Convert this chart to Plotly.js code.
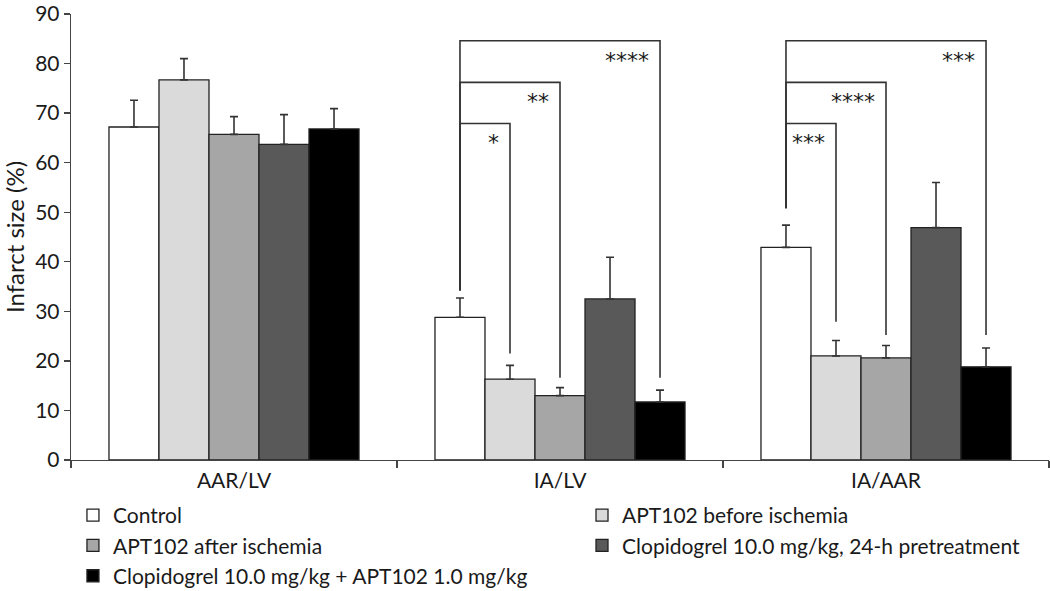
<!DOCTYPE html>
<html>
<head>
<meta charset="utf-8">
<script src="https://cdn.plot.ly/plotly-3.0.1.min.js"></script>
<style>html,body{margin:0;padding:0;background:#fff;}#chart{width:1050px;height:591px;}</style>
</head>
<body>
<div id="chart"></div>
<script>
// ---- data ----
var categories = ["AAR/LV", "IA/LV", "IA/AAR"];
var seriesNames = [
  "Control",
  "APT102 before ischemia",
  "APT102 after ischemia",
  "Clopidogrel 10.0 mg/kg, 24-h pretreatment",
  "Clopidogrel 10.0 mg/kg + APT102 1.0 mg/kg"
];
var controlVals   = [67.2, 28.8, 42.9];
var aptBeforeVals = [76.7, 16.3, 21.0];
var aptAfterVals  = [65.7, 13.0, 20.6];
var clop24Vals    = [63.7, 32.5, 46.9];
var clopAptVals   = [66.8, 11.7, 18.8];

var controlErr   = [5.4, 3.9, 4.5];
var aptBeforeErr = [4.3, 2.8, 3.1];
var aptAfterErr  = [3.6, 1.6, 2.5];
var clop24Err    = [6.0, 8.4, 9.1];
var clopAptErr   = [4.1, 2.4, 3.8];

var yTickVals = [0, 10, 20, 30, 40, 50, 60, 70, 80, 90];

// legend column of each series (1 = left column, 2 = right column)
var legendColumn = [1, 2, 1, 2, 1];

// significance brackets: group index, compared bar index, bracket height, label
var bracketGroup  = [1, 1, 1, 2, 2, 2];
var bracketTarget = [1, 2, 4, 1, 2, 4];
var bracketTop    = [67.9, 76.2, 84.6, 67.9, 76.2, 84.6];
var bracketLeftBottom  = [34.2, 34.2, 34.2, 50.8, 50.8, 50.8];
var bracketRightBottom = [21.5, 16.6, 16.6, 27.9, 25.2, 25.2];
var bracketLabels = ["*", "**", "****", "***", "****", "***"];

// ---- styles ----
var colors = ["#ffffff", "#dadada", "#a6a6a6", "#595959", "#000000"];
var allVals = [controlVals, aptBeforeVals, aptAfterVals, clop24Vals, clopAptVals];
var allErr = [controlErr, aptBeforeErr, aptAfterErr, clop24Err, clopAptErr];
var FONT = "Lato, 'Open Sans', sans-serif";
var TXT = "#1a1a1a";
var bargap = 0.233;
var nSeries = seriesNames.length;

var traces = seriesNames.map(function (name, i) {
  return {
    type: "bar",
    name: name,
    x: categories,
    y: allVals[i],
    legend: legendColumn[i] === 1 ? "legend" : "legend2",
    marker: { color: colors[i], line: { color: "#222", width: 1.3 } },
    error_y: {
      type: "data",
      symmetric: false,
      array: allErr[i],
      arrayminus: allErr[i].map(function () { return 0; }),
      color: "#333",
      thickness: 1.6,
      width: 4
    }
  };
});

var barW = (1 - bargap) / nSeries;
function barCenter(g, k) { return g + (k - (nSeries - 1) / 2) * barW; }

var shapes = [];
var annotations = [];
for (var b = 0; b < bracketGroup.length; b++) {
  var xl = barCenter(bracketGroup[b], 0);
  var xr = barCenter(bracketGroup[b], bracketTarget[b]);
  shapes.push({
    type: "path", xref: "x", yref: "y",
    path: "M" + xl + "," + bracketLeftBottom[b] + " L" + xl + "," + bracketTop[b] +
          " L" + xr + "," + bracketTop[b] + " L" + xr + "," + bracketRightBottom[b],
    line: { color: "#333", width: 1.6 }
  });
  annotations.push({
    xref: "x", yref: "y", x: xr, y: bracketTop[b] - 3.5,
    text: bracketLabels[b], showarrow: false,
    xanchor: "right", yanchor: "middle", xshift: -9, yshift: -2,
    font: { family: "'DejaVu Sans', sans-serif", size: 22, color: TXT }
  });
}

var legendFont = { family: FONT, size: 21, color: TXT };
var layout = {
  width: 1050, height: 591,
  margin: { l: 71, r: 1, t: 14, b: 131, autoexpand: false },
  paper_bgcolor: "#fff", plot_bgcolor: "#fff",
  font: { family: FONT, size: 20, color: TXT },
  barmode: "group", bargap: bargap, bargroupgap: 0,
  showlegend: true,
  legend: {
    orientation: "v", x: 0.002, xanchor: "left", y: -0.0785, yanchor: "top",
    font: legendFont, traceorder: "normal", bgcolor: "rgba(0,0,0,0)"
  },
  legend2: {
    orientation: "v", x: 0.5225, xanchor: "left", y: -0.0785, yanchor: "top",
    font: legendFont, traceorder: "normal", bgcolor: "rgba(0,0,0,0)"
  },
  xaxis: {
    type: "category", range: [-0.5, 2.5],
    showline: true, linecolor: "#444", linewidth: 1.3,
    ticks: "outside", tickson: "boundaries", ticklen: 7, tickcolor: "#444", tickwidth: 1.3,
    showgrid: false, zeroline: false, ticklabelstandoff: 1,
    tickfont: { family: FONT, size: 21, color: TXT }
  },
  yaxis: {
    range: [0, 90], tickvals: yTickVals, ticktext: yTickVals.map(String),
    showline: true, linecolor: "#444", linewidth: 1.3,
    ticks: "outside", ticklen: 6, tickcolor: "#444", tickwidth: 1.3,
    showgrid: false, zeroline: false, ticklabeloverflow: "allow",
    tickfont: { family: FONT, size: 21, color: TXT },
    title: { text: "Infarct size (%)", font: { family: FONT, size: 24, color: TXT }, standoff: 10 }
  },
  shapes: shapes,
  annotations: annotations
};

Plotly.newPlot("chart", traces, layout, { displayModeBar: false, staticPlot: true });
</script>
</body>
</html>
